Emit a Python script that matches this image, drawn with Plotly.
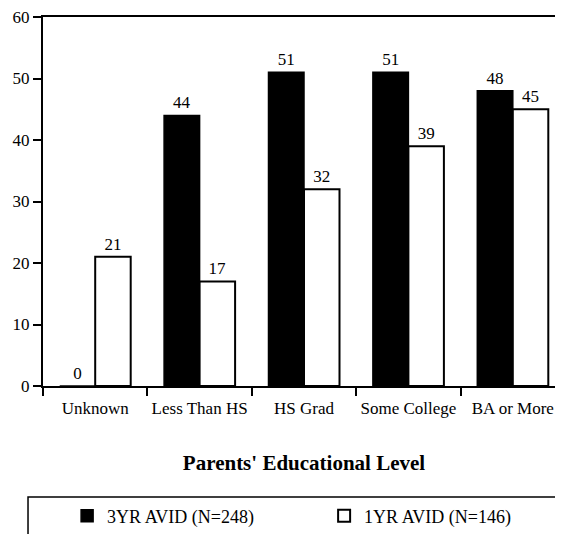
import plotly.graph_objects as go

categories = ["Unknown", "Less Than HS", "HS Grad", "Some College", "BA or More"]
avid_3yr = [0, 44, 51, 51, 48]
avid_1yr = [21, 17, 32, 39, 45]
series_names = ["3YR AVID (N=248)", "1YR AVID (N=146)"]
y_ticks = [0, 10, 20, 30, 40, 50, 60]

FONT = "Liberation Serif"

fig = go.Figure()
fig.add_trace(go.Bar(
    x=categories, y=avid_3yr, name=series_names[0],
    marker=dict(color="black", line=dict(color="black", width=1.5)),
    text=[str(v) for v in avid_3yr], textposition="outside",
    textfont=dict(family=FONT, size=17, color="black"), cliponaxis=False,
))
fig.add_trace(go.Bar(
    x=categories, y=avid_1yr, name=series_names[1],
    marker=dict(color="white", line=dict(color="black", width=2)),
    text=[str(v) for v in avid_1yr], textposition="outside",
    textfont=dict(family=FONT, size=17, color="black"), cliponaxis=False,
))

# page body has an 8px margin; margins below are compensated for it
fig.update_layout(
    width=563, height=534,
    margin=dict(l=35, r=6, t=9, b=156, autoexpand=False),
    paper_bgcolor="white", plot_bgcolor="white",
    barmode="group", bargap=0.32, bargroupgap=0,
    font=dict(family=FONT, size=17, color="black"),
    showlegend=True,
    legend=dict(orientation="h", xref="container", yref="container",
                x=0.105, xanchor="left", y=0.0487, yanchor="middle",
                entrywidth=212, entrywidthmode="pixels",
                font=dict(family=FONT, size=18, color="black"),
                bgcolor="rgba(0,0,0,0)", traceorder="normal"),
    xaxis=dict(
        type="category", tickson="boundaries", ticks="outside", ticklen=8,
        tickwidth=1.5, tickcolor="black", automargin=False, tickangle=0,
        showline=True, linecolor="black", linewidth=2, mirror=True,
        showgrid=False, zeroline=False, ticklabelstandoff=6,
        tickfont=dict(family=FONT, size=17, color="black"),
        title=dict(text="<b>Parents' Educational Level</b>", standoff=38,
                   font=dict(family=FONT, size=21, color="black")),
        range=[-0.5, 4.5],
    ),
    yaxis=dict(
        range=[0, 60], tickvals=y_ticks, ticks="outside", ticklen=8,
        tickwidth=1.5, tickcolor="black", automargin=False,
        ticklabeloverflow="allow",
        showline=True, linecolor="black", linewidth=2,
        showgrid=False, zeroline=False,
        tickfont=dict(family=FONT, size=17, color="black"),
    ),
    shapes=[dict(type="rect", xref="paper", yref="paper",
                 x0=-0.0287, x1=1.05, y0=-0.46, y1=-0.301,
                 line=dict(color="black", width=1.5), fillcolor="rgba(0,0,0,0)")],
)

fig.write_html("out.html")
